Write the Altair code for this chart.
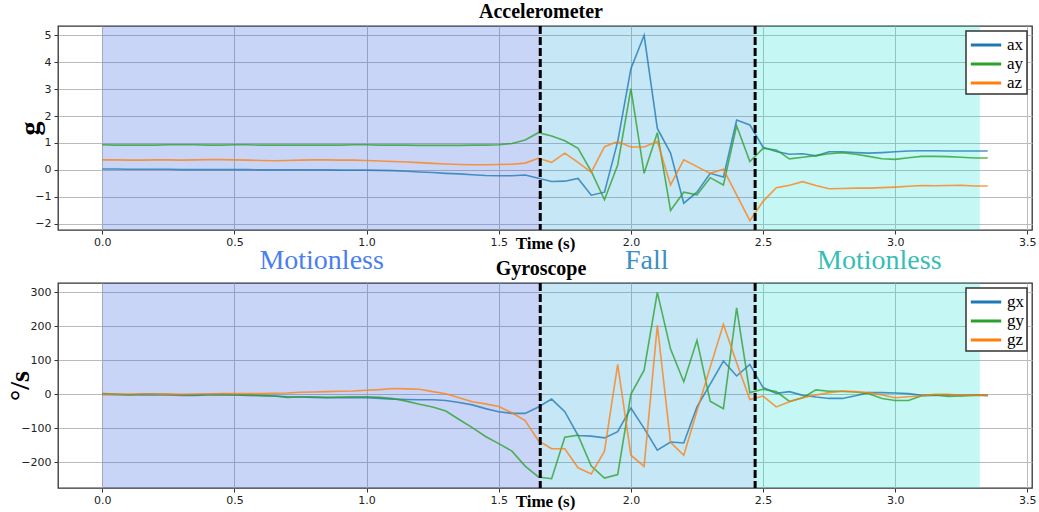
import altair as alt
import pandas as pd

# Sample times (s), 20 Hz
t = [round(i * 0.05, 2) for i in range(68)]

# Accelerometer (g)
ax = [0.03, 0.03, 0.02, 0.02, 0.02, 0.02, 0.01, 0.01, 0.01, 0.01,
      0.01, 0.01, 0.00, 0.00, 0.00, 0.00, 0.00, 0.00, -0.01, -0.01,
      -0.01, -0.02, -0.03, -0.05, -0.08, -0.10, -0.13, -0.15, -0.18, -0.21,
      -0.22, -0.22,
      -0.19, -0.31, -0.43, -0.42, -0.32, -0.94, -0.83, 1.05, 3.76, 5.00,
      1.54, 0.62, -1.24, -0.83, -0.13, -0.27, 1.85, 1.67, 0.84, 0.68,
      0.58, 0.60, 0.52, 0.67, 0.67, 0.64, 0.62, 0.64, 0.67, 0.70,
      0.71, 0.71, 0.70, 0.70, 0.70, 0.70]
ay = [0.93, 0.92, 0.92, 0.92, 0.92, 0.93, 0.93, 0.93, 0.92, 0.92,
      0.93, 0.93, 0.92, 0.92, 0.92, 0.92, 0.92, 0.92, 0.92, 0.93,
      0.93, 0.92, 0.92, 0.92, 0.91, 0.91, 0.91, 0.91, 0.92, 0.92,
      0.93, 0.98,
      1.11, 1.38, 1.26, 1.08, 0.80, -0.06, -1.11, 0.18, 3.02, -0.13,
      1.38, -1.51, -0.83, -0.93, -0.29, -0.56, 1.64, 0.31, 0.80, 0.74,
      0.41, 0.47, 0.53, 0.60, 0.64, 0.58, 0.50, 0.41, 0.39, 0.45,
      0.50, 0.50, 0.49, 0.47, 0.44, 0.44]
az = [0.37, 0.37, 0.36, 0.36, 0.37, 0.37, 0.36, 0.37, 0.38, 0.38,
      0.37, 0.36, 0.35, 0.34, 0.35, 0.36, 0.37, 0.37, 0.36, 0.36,
      0.35, 0.33, 0.31, 0.29, 0.27, 0.24, 0.22, 0.20, 0.19, 0.19,
      0.20, 0.21,
      0.25, 0.43, 0.28, 0.62, 0.28, -0.09, 0.86, 1.05, 0.85, 0.85,
      1.05, -0.56, 0.37, 0.12, -0.13, 0.02, -0.93, -1.89, -1.17, -0.66,
      -0.57, -0.44, -0.58, -0.70, -0.69, -0.68, -0.68, -0.66, -0.64, -0.61,
      -0.58, -0.59, -0.58, -0.57, -0.60, -0.60]

# Gyroscope (deg/s)
gx = [0, -1, -1, -2, -2, -2, -3, -3, -2, -2,
      -2, -3, -4, -5, -7, -8, -9, -10, -10, -10,
      -10, -12, -14, -15, -16, -16, -18, -24, -31, -42,
      -51, -56,
      -56, -37, -14, -51, -121, -123, -128, -110, -40, -100,
      -164, -140, -143, -37, 30, 98, 54, 88, 20, 3,
      8, -3, -8, -12, -12, -4, 5, 5, 4, 2,
      -3, -3, -1, -3, -2, -3]
gy = [2, 1, -2, 1, 1, 0, -1, -1, 0, 0,
      -1, -2, -3, -5, -9, -8, -8, -9, -8, -7,
      -7, -9, -12, -20, -29, -37, -49, -74, -98, -124,
      -145, -167,
      -211, -243, -248, -126, -120, -211, -246, -236, 0, 71,
      300, 133, 37, 159, -20, -42, 254, 5, 15, 8,
      -21, -10, 13, 9, 9, 7, 2, -12, -18, -18,
      -4, -2, -6, -5, -3, -3]
gz = [0, 1, 1, 1, 1, 0, 0, 1, 1, 2,
      2, 2, 2, 3, 4, 6, 7, 8, 9, 10,
      12, 14, 17, 16, 15, 8, 2, -10, -22, -28,
      -36, -54,
      -77, -136, -160, -160, -216, -234, -167, 88, -179, -212,
      203, -141, -179, -49, 80, 206, 93, -15, -5, -37,
      -22, -10, -2, 5, 9, 8, 5, -2, -10, -7,
      -4, 0, 0, -3, -2, -3]

# Activity phases
phase_start = [0.0, 1.657, 2.47]
phase_end = [1.657, 2.47, 3.32]
phase_fill = ["#2757df", "#179fdb", "#17dfd7"]
phase_names = ["Motionless", "Fall", "Motionless"]
phase_label_t = [0.83, 2.06, 2.94]
phase_label_color = ["#4a7ef0", "#3d8fc4", "#36bdb5"]
boundaries = [1.657, 2.47]

series_colors = ["#1f77b4", "#2ca02c", "#ff7f0e"]
x_ticks = [0.0, 0.5, 1.0, 1.5, 2.0, 2.5, 3.0, 3.5]
x_domain = [-0.1675, 3.5175]

W = 974
SERIF = "Liberation Serif"
SANS = "DejaVu Sans"
GRID = "#bbbbbb"
# long horizontal stroke used as the legend swatch
SWATCH = "M-1.6,0L1.6,0"


def panel(title, ytitle, names, values, ydomain, yticks, height, ytitle_x, with_labels):
    df = pd.DataFrame(
        [{"t": tt, "value": v, "series": n}
         for n, vals in zip(names, values) for tt, v in zip(t, vals)]
    )
    xs = alt.Scale(domain=x_domain, nice=False, zero=False)
    xaxis = alt.Axis(
        values=x_ticks, format=".1f", title="Time (s)", grid=True,
        gridColor=GRID, gridWidth=1, domain=False,
        tickColor="#333333", tickSize=4, labelFont=SANS, labelFontSize=11,
        labelColor="#222222", labelPadding=2,
        titleFont=SERIF, titleFontSize=17, titleFontWeight="bold",
        titleColor="#000000", titleX=W / 2, titleY=13,
        titleAlign="center", titleBaseline="middle",
    )
    ys = alt.Scale(domain=ydomain, nice=False, zero=False)
    yaxis = alt.Axis(
        values=yticks, grid=True, gridColor=GRID, gridWidth=1,
        domain=False, tickColor="#333333", tickSize=4, labelFont=SANS,
        labelFontSize=11, labelColor="#222222", labelPadding=3,
        title=ytitle, titleFont=SERIF, titleFontSize=28,
        titleFontWeight="bold", titleColor="#000000", titleX=ytitle_x,
        titleY=height / 2, titleAlign="center", titleBaseline="middle",
    )

    layers = []
    for s, e, f in zip(phase_start, phase_end, phase_fill):
        layers.append(
            alt.Chart(pd.DataFrame({"start": [s], "end": [e]}))
            .mark_rect(color=f, opacity=0.25)
            .encode(
                x=alt.X("start:Q", scale=xs, axis=xaxis),
                x2="end:Q",
                y=alt.value(0),
                y2=alt.value(height),
            )
        )

    lines = (
        alt.Chart(df)
        .mark_line(strokeWidth=1.6, opacity=0.78)
        .encode(
            x=alt.X("t:Q", scale=xs, axis=xaxis),
            y=alt.Y("value:Q", scale=ys, axis=yaxis),
            color=alt.Color(
                "series:N",
                scale=alt.Scale(domain=names, range=series_colors),
                legend=alt.Legend(
                    title=None, orient="top-right", offset=5, padding=3,
                    fillColor="#ffffff", strokeColor="#333333",
                    symbolType=SWATCH, symbolSize=361, symbolOffset=6,
                    symbolStrokeWidth=3, symbolOpacity=1,
                    labelFont=SERIF, labelFontSize=17, labelColor="#000000",
                    labelOffset=10, rowPadding=0,
                ),
            ),
        )
    )
    layers.append(lines)

    layers.append(
        alt.Chart(pd.DataFrame({"b": boundaries}))
        .mark_rule(color="black", strokeWidth=3, strokeDash=[8, 3])
        .encode(x=alt.X("b:Q", scale=xs, axis=xaxis))
    )

    if with_labels:
        for name, pos, col in zip(phase_names, phase_label_t, phase_label_color):
            layers.append(
                alt.Chart(pd.DataFrame({"pos": [pos], "name": [name]}))
                .mark_text(font=SERIF, fontSize=28, color=col,
                           baseline="alphabetic", align="center")
                .encode(
                    x=alt.X("pos:Q", scale=xs, axis=xaxis),
                    y=alt.value(height + 39),
                    text="name:N",
                )
            )

    return alt.layer(*layers).properties(
        width=W,
        height=height,
        title=alt.Title(title, font=SERIF, fontSize=20, fontWeight="bold",
                        color="#000000", anchor="middle", frame="group",
                        offset=3, dx=-4),
    )


top = panel("Accelerometer", "g", ["ax", "ay", "az"], [ax, ay, az],
            [-2.2345, 5.3445], [-2, -1, 0, 1, 2, 3, 4, 5], 204, -28, True)
bottom = panel("Gyroscope", "°/s", ["gx", "gy", "gz"], [gx, gy, gz],
               [-275.4, 327.4], [-200, -100, 0, 100, 200, 300], 205, -38, False)

chart = (
    alt.vconcat(top, bottom, spacing=53, bounds="flush")
    .resolve_scale(color="independent", x="independent", y="independent")
    .resolve_legend(color="independent")
    .properties(padding={"left": 5, "top": 0, "right": 2, "bottom": 2},
                background="white")
    .configure_view(stroke="#333333", strokeWidth=1.3)
    .configure_legend(strokeWidth=1.5, cornerRadius=0)
)

chart.save("out.html", embed_options={"renderer": "svg", "actions": False})
